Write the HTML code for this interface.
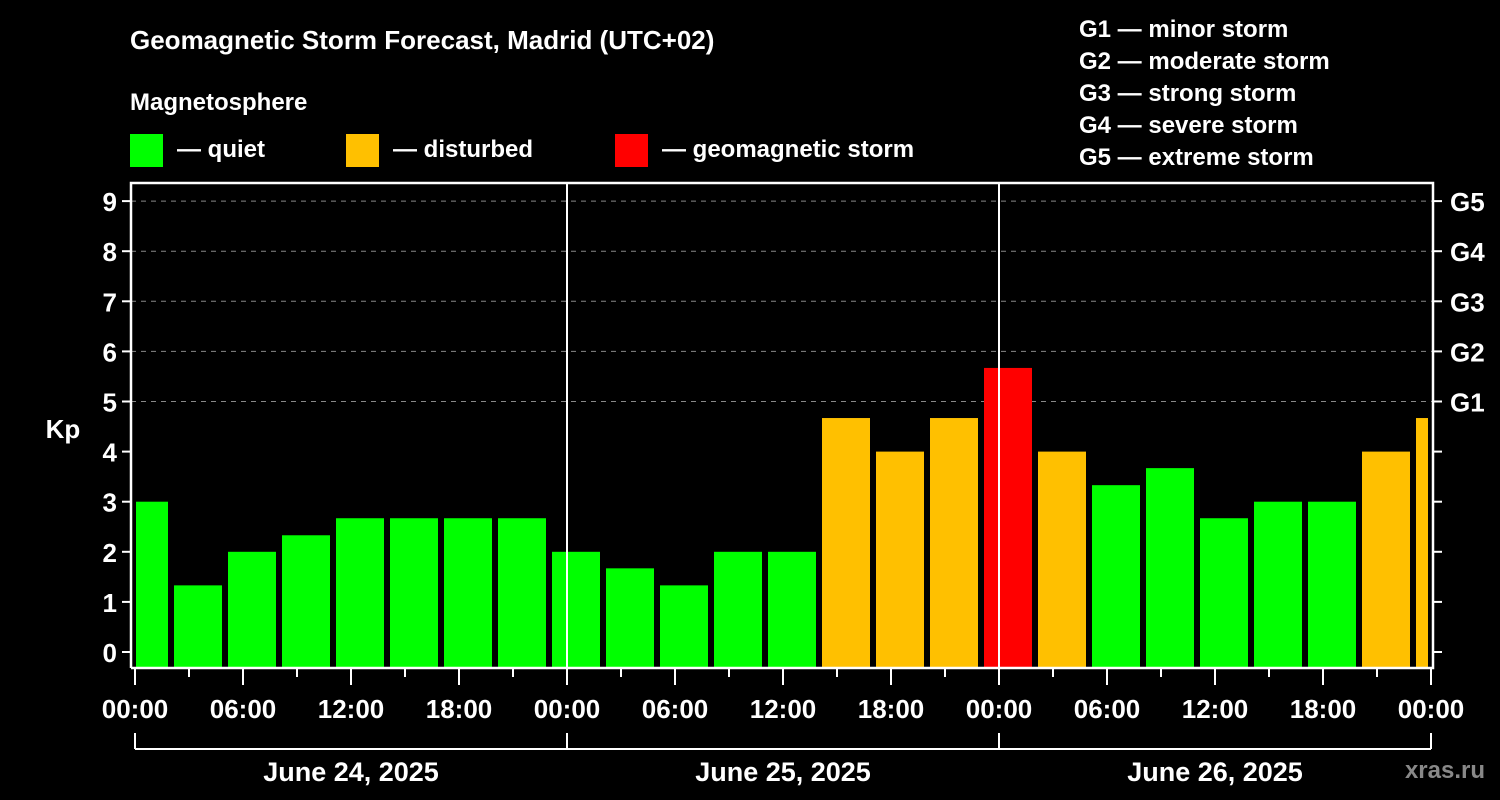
<!DOCTYPE html>
<html><head><meta charset="utf-8"><style>
body{margin:0;background:#000;width:1500px;height:800px;overflow:hidden}
svg{display:block}
text{font-family:"Liberation Sans",sans-serif;font-weight:bold;fill:#fff}
</style></head><body>
<svg id="chart" width="1500" height="800" viewBox="0 0 1500 800">
<rect width="1500" height="800" fill="#000"/>
<text x="130" y="49" font-size="26">Geomagnetic Storm Forecast, Madrid (UTC+02)</text>
<text x="130" y="110" font-size="24">Magnetosphere</text>
<g><rect x="130" y="134" width="33" height="33" fill="#00ff00"/><text x="177" y="157" font-size="24">— quiet</text></g>
<g><rect x="346" y="134" width="33" height="33" fill="#ffc000"/><text x="393" y="157" font-size="24">— disturbed</text></g>
<g><rect x="615" y="134" width="33" height="33" fill="#ff0000"/><text x="662" y="157" font-size="24">— geomagnetic storm</text></g>
<g font-size="24">
<text x="1079" y="37">G1 — minor storm</text>
<text x="1079" y="69">G2 — moderate storm</text>
<text x="1079" y="101">G3 — strong storm</text>
<text x="1079" y="133">G4 — severe storm</text>
<text x="1079" y="165">G5 — extreme storm</text>
</g>
<text x="63" y="438" font-size="26" text-anchor="middle">Kp</text>
<text x="1485" y="778" font-size="24" text-anchor="end" style="fill:#888">xras.ru</text>
<g id="grid"></g><g id="bars"></g><g id="axes"></g>
</svg>
<script>
const kpValues=[3,1.33,2,2.33,2.67,2.67,2.67,2.67,2,1.67,1.33,2,2,4.67,4,4.67,5.67,4,3.33,3.67,2.67,3,3,4,4.67];
const barHours=[0.5,3.5,6.5,9.5,12.5,15.5,18.5,21.5,24.5,27.5,30.5,33.5,36.5,39.5,42.5,45.5,48.5,51.5,54.5,57.5,60.5,63.5,66.5,69.5,72.5];
const yTicks=[0,1,2,3,4,5,6,7,8,9];
const gLabels=["G1","G2","G3","G4","G5"];
const gLevels=[5,6,7,8,9];
const xTickLabels=["00:00","06:00","12:00","18:00","00:00","06:00","12:00","18:00","00:00","06:00","12:00","18:00","00:00"];
const dayLabels=["June 24, 2025","June 25, 2025","June 26, 2025"];
const NS="http://www.w3.org/2000/svg";
const X=h=>135+h*18, Y=v=>652-v*50.1;
const L=131,R=1433,T=183,B=668;
function mk(p,tag,a){const e=document.createElementNS(NS,tag);for(const k in a)e.setAttribute(k,a[k]);p.appendChild(e);return e;}
const grid=document.getElementById('grid'),bars=document.getElementById('bars'),axes=document.getElementById('axes');
gLevels.forEach((g,i)=>{
const l=mk(grid,'line',{x1:L,x2:R,y1:Y(g),y2:Y(g),stroke:'#888','stroke-width':1,'stroke-dasharray':'5,5'});


const t=mk(axes,'text',{x:1450,y:Y(g)+10,'font-size':26});t.textContent=gLabels[i];


});
const cp=mk(bars,'clipPath',{id:'clip'});mk(cp,'rect',{x:136,y:0,width:1292,height:B});
kpValues.forEach((v,i)=>{
const c=v>=5?'#ff0000':(v>=4?'#ffc000':'#00ff00');
const r=mk(bars,'rect',{x:X(barHours[i])-24,y:Y(v),width:48,height:B-Y(v),fill:c,'clip-path':'url(#clip)'});


});
const frame=mk(axes,'path',{d:`M${L},${B}V${T}H${R}V${B}H${L}`,fill:'none',stroke:'#fff','stroke-width':2.5});


yTicks.forEach(v=>{
mk(axes,'line',{x1:L-9,x2:L,y1:Y(v),y2:Y(v),stroke:'#fff','stroke-width':2});
mk(axes,'line',{x1:R,x2:R+9,y1:Y(v),y2:Y(v),stroke:'#fff','stroke-width':2});
const t=mk(axes,'text',{x:L-14,y:Y(v)+10,'font-size':26,'text-anchor':'end'});t.textContent=v;


});
for(let h=0;h<=72;h+=3){
const major=h%6===0;
mk(axes,'line',{x1:X(h),x2:X(h),y1:B,y2:B+(major?17:9),stroke:'#fff','stroke-width':2});
}
xTickLabels.forEach((s,i)=>{
const t=mk(axes,'text',{x:X(i*6),y:718,'font-size':26,'text-anchor':'middle'});t.textContent=s;


});
[1,2].forEach(d=>mk(axes,'line',{x1:X(d*24),x2:X(d*24),y1:T,y2:B,stroke:'#fff','stroke-width':2}));
mk(axes,'line',{x1:X(0),x2:X(72),y1:749,y2:749,stroke:'#fff','stroke-width':2});
[0,1,2,3].forEach(d=>mk(axes,'line',{x1:X(d*24),x2:X(d*24),y1:733,y2:749,stroke:'#fff','stroke-width':2}));
dayLabels.forEach((s,i)=>{
const t=mk(axes,'text',{x:X(i*24+12),y:781,'font-size':27,'text-anchor':'middle'});t.textContent=s;


});
</script>
</body></html>
